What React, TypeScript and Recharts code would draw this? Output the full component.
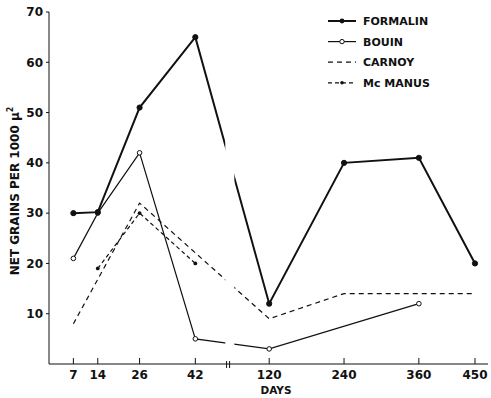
import React from "react";
import { LineChart, Line, XAxis, YAxis, ReferenceArea, Legend } from "recharts";

const DAYS = [7, 14, 26, 42, 120, 240, 360, 450];
const FORMALIN = [30, 30.2, 51, 65, 12, 40, 41, 20];
const BOUIN = [21, 30, 42, 5, 3, null, 12, null];
const CARNOY = [8, null, 32, null, 9, 14, 14, 14];
const MCMANUS = [null, 19, 30, 20, null, null, null, null];
const Y_TICKS = [10, 20, 30, 40, 50, 60, 70];

const FONT = "'DejaVu Sans', 'Liberation Sans', Arial, sans-serif";
const INK = "#111";

// broken x scale: early days at full width, later days compressed after the break
const BREAK = 51.4;
function axisPos(day: number) {
  return day <= 42 ? day : 63.2 + (day - 120) * 0.179;
}

const rows = DAYS.map((day, i) => ({
  x: axisPos(day),
  formalin: FORMALIN[i],
  bouin: BOUIN[i],
  carnoy: CARNOY[i],
  mcmanus: MCMANUS[i],
}));

const SERIES = [
  { key: "formalin", name: "FORMALIN", width: 2, dash: undefined, dot: "filled" },
  { key: "bouin", name: "BOUIN", width: 1.2, dash: undefined, dot: "open" },
  { key: "carnoy", name: "CARNOY", width: 1.2, dash: "5 4", dot: "none" },
  { key: "mcmanus", name: "Mc MANUS", width: 1.2, dash: "4 3", dot: "small" },
];

function DayTick(props: any) {
  const { x, y, payload } = props;
  if (payload.value === BREAK) {
    return (
      <g stroke={INK} strokeWidth={1}>
        <line x1={x - 1.5} x2={x - 1.5} y1={y - 3} y2={y + 4} />
        <line x1={x + 1.5} x2={x + 1.5} y1={y - 3} y2={y + 4} />
      </g>
    );
  }
  const idx = DAYS.findIndex((d) => axisPos(d) === payload.value);
  return (
    <g>
      <line x1={x} x2={x} y1={y - 6} y2={y} stroke={INK} strokeWidth={1} />
      <text x={x} y={y + 14.5} textAnchor="middle" fontSize={12} fontWeight="bold" fill={INK} fontFamily={FONT}>
        {DAYS[idx]}
      </text>
    </g>
  );
}

function YTitle() {
  return (
    <text
      transform="translate(19, 191) rotate(-90)"
      textAnchor="middle"
      fontSize={12}
      fontWeight="bold"
      fill={INK}
      fontFamily={FONT}
    >
      NET GRAINS PER 1000 μ<tspan dy={-6} fontSize={8}>2</tspan>
    </text>
  );
}

function XTitle() {
  return (
    <text x={276} y={394} textAnchor="middle" fontSize={10.5} fontWeight="bold" fill={INK} fontFamily={FONT}>
      DAYS
    </text>
  );
}

function LegendBox() {
  return (
    <svg width={150} height={86}>
      {SERIES.map((s, i) => {
        const cy = 11 + i * 20.6;
        return (
          <g key={s.key}>
            <line x1={2} x2={30} y1={cy} y2={cy} stroke={INK} strokeWidth={s.width} strokeDasharray={s.dash} />
            {s.dot === "filled" && <circle cx={16} cy={cy} r={2.4} fill={INK} />}
            {s.dot === "open" && <circle cx={16} cy={cy} r={2.2} fill="#fff" stroke={INK} strokeWidth={1} />}
            {s.dot === "small" && <circle cx={16} cy={cy} r={1.8} fill={INK} />}
            <text x={37} y={cy + 4.2} fontSize={11} fontWeight="bold" fill={INK} fontFamily={FONT}>
              {s.name}
            </text>
          </g>
        );
      })}
    </svg>
  );
}

function dotFor(kind: string) {
  if (kind === "filled") return { r: 2.6, fill: INK, stroke: INK, strokeWidth: 1 };
  if (kind === "open") return { r: 2.3, fill: "#fff", stroke: INK, strokeWidth: 1 };
  if (kind === "small") return { r: 1.9, fill: INK, stroke: "none" };
  return false;
}

export default function App() {
  const drawOrder = ["carnoy", "mcmanus", "bouin", "formalin"];
  return (
    <div style={{ position: "absolute", left: 0, top: 0, background: "#fff" }}>
      <LineChart
        width={491}
        height={398}
        data={rows}
        margin={{ top: 12, right: 3, bottom: 0, left: 0 }}
        style={{ fontFamily: FONT }}
      >
        <XAxis
          type="number"
          dataKey="x"
          domain={[0, 126]}
          ticks={[...DAYS.map(axisPos), BREAK]}
          interval={0}
          tick={DayTick}
          tickLine={false}
          tickSize={0}
          tickMargin={0}
          height={34}
          axisLine={{ stroke: INK, strokeWidth: 1 }}
          label={<XTitle />}
        />
        <YAxis
          type="number"
          domain={[0, 70]}
          ticks={Y_TICKS}
          interval={0}
          width={49}
          tickSize={3}
          tickMargin={3}
          tick={{ fill: INK, fontSize: 12, fontWeight: "bold", fontFamily: FONT }}
          tickLine={{ stroke: INK }}
          axisLine={{ stroke: INK, strokeWidth: 1 }}
          label={<YTitle />}
        />
        {drawOrder.map((key) => {
          const s = SERIES.find((v) => v.key === key)!;
          return (
            <Line
              key={key}
              type="linear"
              dataKey={key}
              name={s.name}
              stroke={INK}
              strokeWidth={s.width}
              strokeDasharray={s.dash}
              dot={dotFor(s.dot) as any}
              activeDot={false}
              connectNulls
              isAnimationActive={false}
            />
          );
        })}
        <ReferenceArea x1={50.6} x2={53.2} y1={0.6} y2={70} fill="#fff" fillOpacity={1} stroke="none" zIndex={1000} />
        <Legend
          layout="horizontal"
          verticalAlign="middle"
          align="center"
          content={<LegendBox />}
          wrapperStyle={{ position: "absolute", left: 326, top: 10, width: 150, height: 86 }}
        />
      </LineChart>
    </div>
  );
}
